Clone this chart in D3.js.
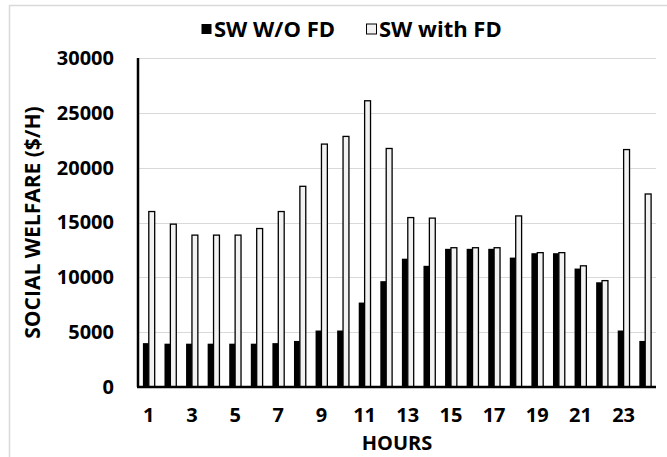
<!DOCTYPE html>
<html>
<head>
<meta charset="utf-8">
<script src="https://cdn.jsdelivr.net/npm/d3@7"></script>
<style>
  body { margin: 0; background: #fff; }
  svg { display: block; font-family: "Open Sans", sans-serif; font-weight: bold; }
  .grid line { stroke: #d9d9d9; stroke-width: 1; }
</style>
</head>
<body>
<svg width="667" height="457"></svg>
<script>
var hours = d3.range(1, 25).map(String);
var seriesNames = ["SW W/O FD", "SW with FD"];
var swNoFD = [4000, 3950, 3950, 3950, 3950, 3950, 4000, 4200, 5150, 5150, 7700, 9650,
              11700, 11050, 12600, 12600, 12600, 11800, 12200, 12200, 10800, 9550, 5150, 4200];
var swWithFD = [16000, 14850, 13850, 13850, 13850, 14450, 16000, 18300, 22150, 22850, 26100, 21750,
                15450, 15400, 12700, 12700, 12700, 15600, 12250, 12250, 11050, 9700, 21650, 17600];
var yTicks = [0, 5000, 10000, 15000, 20000, 25000, 30000];
var xTickLabels = ["1", "3", "5", "7", "9", "11", "13", "15", "17", "19", "21", "23"];

var svg = d3.select("svg"),
    margin = {top: 58, right: 11, bottom: 70, left: 138},
    width = +svg.attr("width") - margin.left - margin.right,
    height = +svg.attr("height") - margin.top - margin.bottom;

var fills = ["#000000", "#f2f2f2"];
var fontSize = 20;

// outer chart frame
svg.append("rect")
    .attr("x", 9.5).attr("y", 5.5)
    .attr("width", 700).attr("height", 500)
    .attr("fill", "none")
    .attr("stroke", "#d9d9d9")
    .attr("stroke-width", 1.5);

var x0 = d3.scaleBand().domain(hours).range([0, width]).padding(0),
    x1 = d3.scaleBand().domain([0, 1]).range([0, x0.bandwidth()]).paddingInner(0).paddingOuter(0.83),
    y = d3.scaleLinear().domain([0, 30000]).range([height, 0]);

var g = svg.append("g")
    .attr("transform", "translate(" + margin.left + "," + margin.top + ")");

g.append("g")
    .attr("class", "grid")
  .selectAll("line")
  .data(yTicks.slice(1))
  .enter().append("line")
    .attr("x1", 0).attr("x2", width)
    .attr("y1", function(d) { return Math.round(y(d)) + 0.5; })
    .attr("y2", function(d) { return Math.round(y(d)) + 0.5; });

// y tick labels
g.append("g")
    .call(d3.axisLeft(y).tickValues(yTicks).tickFormat(d3.format("d")).tickSize(0).tickPadding(24))
    .call(function(s) { s.select(".domain").remove(); })
    .selectAll("text")
      .attr("font-size", fontSize)
      .attr("font-family", "Open Sans, sans-serif")
      .attr("font-weight", "bold")
      .attr("fill", "#000");

var rows = hours.map(function(h, i) { return {hour: h, vals: [swNoFD[i], swWithFD[i]]}; });

var group = g.selectAll(".hour")
    .data(rows)
  .enter().append("g")
    .attr("class", "hour")
    .attr("transform", function(d) { return "translate(" + x0(d.hour) + ",0)"; });

group.selectAll("rect")
    .data(function(d) { return d.vals.map(function(v, k) { return {k: k, v: v}; }); })
  .enter().append("rect")
    .attr("x", function(d) { return x1(d.k); })
    .attr("y", function(d) { return y(d.v); })
    .attr("width", x1.bandwidth())
    .attr("height", function(d) { return height - y(d.v); })
    .attr("fill", function(d) { return fills[d.k]; })
    .attr("stroke", "#000")
    .attr("stroke-width", function(d) { return d.k === 1 ? 1.3 : 0; });

// axes lines
g.append("line")
    .attr("x1", 0).attr("x2", 0)
    .attr("y1", 0).attr("y2", height)
    .attr("stroke", "#000").attr("stroke-width", 2.5);
g.append("line")
    .attr("x1", -1).attr("x2", width)
    .attr("y1", height).attr("y2", height)
    .attr("stroke", "#000").attr("stroke-width", 2.5);

// x tick labels at odd hours
g.append("g")
    .attr("transform", "translate(0," + height + ")")
    .call(d3.axisBottom(x0).tickValues(xTickLabels).tickSize(0).tickPadding(21))
    .call(function(s) { s.select(".domain").remove(); })
    .selectAll("text")
      .attr("font-size", fontSize)
      .attr("font-family", "Open Sans, sans-serif")
      .attr("font-weight", "bold")
      .attr("fill", "#000");

g.append("text")
    .attr("x", width / 2)
    .attr("y", height + 63)
    .attr("text-anchor", "middle")
    .attr("font-size", fontSize)
    .text("HOURS");

svg.append("text")
    .attr("transform", "translate(40," + (margin.top + height / 2) + ") rotate(-90)")
    .attr("text-anchor", "middle")
    .attr("font-size", 21)
    .text("SOCIAL WELFARE ($/H)");

// legend
var legend = svg.append("g").attr("transform", "translate(201,29)");
var legX = [0, 165];
seriesNames.forEach(function(name, k) {
  var item = legend.append("g").attr("transform", "translate(" + legX[k] + ",0)");
  item.append("rect")
      .attr("x", 0.5).attr("y", -5)
      .attr("width", 10).attr("height", 10)
      .attr("fill", fills[k])
      .attr("stroke", "#000")
      .attr("stroke-width", k === 1 ? 1 : 0);
  item.append("text")
      .attr("x", 13)
      .attr("dy", "0.36em")
      .attr("font-size", 22)
      .text(name);
});
</script>
</body>
</html>
